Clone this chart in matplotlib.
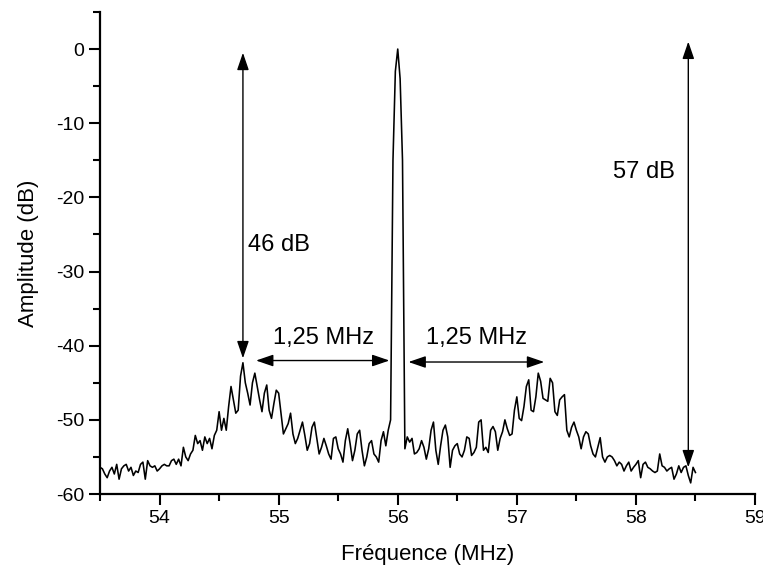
import numpy as np
import matplotlib
matplotlib.use("Agg")
import matplotlib.pyplot as plt
from matplotlib.ticker import MultipleLocator

plt.rcParams['font.family'] = ['Liberation Sans', 'DejaVu Sans']
plt.rcParams['axes.unicode_minus'] = False

# Amplitude (dB) sampled every 0.02 MHz from 53.50 to 58.50 MHz
amp_53_50_54_48 = [
    -56.4, -56.6, -57.3, -57.8, -56.9, -56.4, -57.3, -56.0, -58.0, -56.6,
    -56.2, -56.0, -56.9, -56.4, -57.5, -56.9, -57.1, -56.0, -55.7, -58.0,
    -55.5, -56.2, -56.4, -56.2, -56.9, -56.6, -56.2, -56.0, -56.2, -56.2,
    -55.5, -55.3, -56.0, -55.3, -56.2, -53.7, -55.0, -55.5, -54.6, -54.1,
    -52.1, -53.2, -52.8, -54.1, -52.3, -53.2, -52.5, -53.9, -52.1, -51.4]
amp_54_50_55_40 = [
    -48.9, -51.4, -49.8, -51.4, -48.2, -45.5, -47.3, -49.1, -48.7, -44.1,
    -42.3, -45.0, -46.4, -48.0, -45.0, -43.7, -45.5, -47.3, -48.9, -46.4,
    -45.3, -48.7, -49.8, -47.8, -46.0, -46.4, -49.1, -51.9, -51.2, -50.5,
    -49.1, -51.9, -53.2, -52.5, -51.4, -50.3, -52.1, -54.1, -53.2, -51.0,
    -50.3, -52.5, -54.6, -53.7, -52.5, -53.5]
amp_55_42_55_92 = [
    -54.6, -55.3, -52.5, -52.3, -53.9, -54.6, -55.7, -52.8, -51.2, -53.2,
    -55.5, -54.1, -51.9, -51.4, -54.1, -56.2, -55.0, -53.2, -52.8, -54.6,
    -55.0, -55.7, -52.8, -51.6, -53.5, -51.4]
amp_carrier = [-50.0, -15.0, -3.0, 0.0, -4.0, -15.0]
amp_56_06_56_42 = [
    -53.9, -52.3, -53.0, -52.5, -54.6, -54.4, -53.9, -52.8, -53.7, -55.3,
    -53.9, -51.4, -50.3, -54.1, -56.0, -53.5, -51.4, -50.7, -52.3]
amp_56_44_57_38 = [
    -56.4, -54.1, -53.5, -53.2, -54.6, -55.0, -54.1, -52.3, -52.5, -54.8,
    -54.4, -53.7, -50.3, -50.0, -54.1, -53.7, -54.4, -51.4, -50.9, -51.6,
    -54.1, -52.5, -51.6, -50.0, -51.2, -52.1, -51.9, -48.7, -46.9, -49.8,
    -50.1, -48.2, -45.5, -44.6, -48.7, -48.9, -46.9, -43.7, -44.8, -47.1,
    -47.3, -47.5, -44.4, -45.0, -48.9, -49.4, -47.3, -46.9]
amp_57_40_58_50 = [
    -46.6, -51.4, -52.3, -51.0, -50.3, -51.4, -52.3, -53.9, -52.3, -51.6,
    -51.9, -53.5, -54.6, -55.0, -53.7, -52.4, -55.0, -55.7, -55.0, -54.8,
    -55.0, -55.5, -56.2, -55.7, -56.0, -56.9, -56.2, -55.7, -56.9, -56.4,
    -56.0, -55.5, -57.8, -56.0, -55.7, -56.4, -56.6, -56.9, -57.1, -56.9,
    -54.6, -56.2, -56.4, -56.9, -56.6, -56.4, -58.0, -57.3, -56.2, -57.1,
    -56.4, -56.2, -57.5, -58.5, -56.4, -57.1]

amp = np.array(amp_53_50_54_48 + amp_54_50_55_40 + amp_55_42_55_92 + amp_carrier
               + amp_56_06_56_42 + amp_56_44_57_38 + amp_57_40_58_50)
freq_start, freq_step = 53.5, 0.02
freq = np.round(freq_start + freq_step * np.arange(len(amp)), 2)

x_ticks = [54, 55, 56, 57, 58, 59]
y_ticks = [-60, -50, -40, -30, -20, -10, 0]

# annotations (data units)
vert_arrows = [(54.70, -41.7, -0.5), (58.44, -56.4, 1.0)]
horiz_arrows = [(54.81, 55.93, -42.0), (56.09, 57.23, -42.2)]
labels_db = [("46 dB", 54.74, -26.4), ("57 dB", 57.81, -16.6)]
labels_mhz = [("1,25 MHz", 55.38, -39.0), ("1,25 MHz", 56.66, -39.0)]

fig = plt.figure(figsize=(7.63, 5.70), dpi=100)
ax = fig.add_axes([0.1311, 0.1333, 0.8584, 0.8457])
ax.plot(freq, amp, color='black', lw=1.15)

ax.set_xlim(53.5, 59)
ax.set_ylim(-60, 5)
ax.set_xticks(x_ticks)
ax.set_yticks(y_ticks)
ax.xaxis.set_minor_locator(MultipleLocator(0.5))
ax.yaxis.set_minor_locator(MultipleLocator(5))
for s in ['top', 'right']:
    ax.spines[s].set_visible(False)
for s in ['left', 'bottom']:
    ax.spines[s].set_linewidth(1.6)
ax.tick_params(which='major', direction='out', length=8, width=1.5, labelsize=14)
ax.tick_params(which='minor', direction='out', length=5, width=1.5)
ax.set_xlabel('Fréquence (MHz)', fontsize=16, labelpad=12)
ax.set_ylabel('Amplitude (dB)', fontsize=16, labelpad=12)

astyle = dict(arrowstyle='<|-|>,head_length=0.7,head_width=0.24', color='black',
              lw=1.0, shrinkA=0, shrinkB=0, mutation_scale=15)
for x, y0, y1 in vert_arrows:
    ax.annotate('', xy=(x, y1), xytext=(x, y0), arrowprops=astyle)
for x0, x1, y in horiz_arrows:
    ax.annotate('', xy=(x1, y), xytext=(x0, y), arrowprops=astyle)
for t, x, y in labels_db:
    ax.text(x, y, t, fontsize=17, ha='left', va='center')
for t, x, y in labels_mhz:
    ax.text(x, y, t, fontsize=17, ha='center', va='center')

fig.savefig('out.png', dpi=100)
